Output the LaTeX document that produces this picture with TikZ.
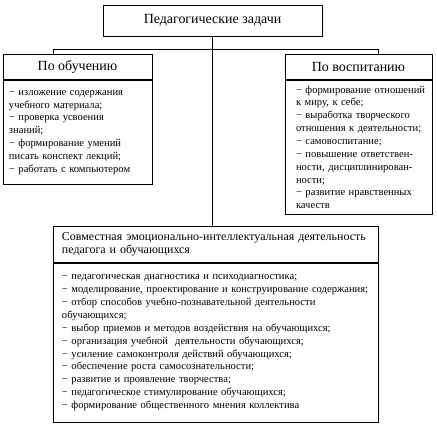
\documentclass[tikz,border=0pt]{standalone}
\usepackage{fontspec}
\setmainfont{Liberation Serif}
\usetikzlibrary{positioning}

\begin{document}
\begin{tikzpicture}[
    x=1bp, y=-1bp,
    headbox/.style={rectangle, draw=black, line width=0.9bp, inner sep=0pt,
                align=center, font=\fontsize{14}{16}\selectfont},
    listbox/.style={rectangle, draw=black, line width=0.9bp, inner ysep=0pt,
                align=left, font=\fontsize{10.6}{12.9}\selectfont},
    link/.style={draw=black, line width=0.9bp}
]
\useasboundingbox (0,0) rectangle (437,425);
\node[headbox, minimum width=219bp, minimum height=31bp] (tasks) at (212.5,20.5) {Педагогические задачи};
\node[headbox, minimum width=149bp, minimum height=25bp, anchor=north] (teach) at (77.5,54) {По обучению};
\node[listbox, text width=141bp, inner xsep=4bp, minimum height=104bp, below=0pt of teach] (teachlist)
  {\hspace*{2bp}− изложение содержания\\\hspace*{2bp}учебного материала;\\\hspace*{2bp}− проверка усвоения\\\hspace*{2bp}знаний;\\\hspace*{2bp}− формирование умений\\\hspace*{2bp}писать конспект лекций;\\\hspace*{2bp}− работать с компьютером};
\node[headbox, minimum width=147bp, minimum height=25bp, anchor=north] (raise) at (358.5,54) {По воспитанию};
\node[listbox, text width=137bp, inner xsep=5bp, minimum height=134bp, below=0pt of raise] (raiselist)
  {\hspace*{6bp}− формирование отношений\\\hspace*{6bp}к миру, к себе;\\\hspace*{6bp}− выработка творческого\\\hspace*{6bp}отношения к деятельности;\\\hspace*{6bp}− самовоспитание;\\\hspace*{6bp}− повышение ответствен-\\\hspace*{6bp}ности, дисциплинирован-\\\hspace*{6bp}ности;\\\hspace*{6bp}− развитие нравственных\\\hspace*{6bp}качеств};
\node[headbox, align=left, font=\fontsize{12}{13.5}\selectfont, text width=313bp, inner xsep=6bp,
      minimum height=36bp, anchor=north] (joint) at (215.5,226)
  {\hspace*{3bp}Совместная эмоционально-интеллектуальная деятельность\\\hspace*{3bp}педагога и обучающихся};
\node[listbox, text width=313bp, inner xsep=6bp, minimum height=159bp, below=0pt of joint] (jointlist)
  {\hspace*{3bp}− педагогическая диагностика и психодиагностика;\\
   \hspace*{3bp}− моделирование, проектирование и конструирование содержания;\\
   \hspace*{3bp}− отбор способов учебно-познавательной деятельности\\\hspace*{3bp}обучающихся;\\
   \hspace*{3bp}− выбор приемов и методов воздействия на обучающихся;\\
   \hspace*{3bp}− организация учебной\ \ деятельности обучающихся;\\
   \hspace*{3bp}− усиление самоконтроля действий обучающихся;\\
   \hspace*{3bp}− обеспечение роста самосознательности;\\
   \hspace*{3bp}− развитие и проявление творчества;\\
   \hspace*{3bp}− педагогическое стимулирование обучающихся;\\
   \hspace*{3bp}− формирование общественного мнения коллектива};
\coordinate (lbus) at (53,49);
\coordinate (rbus) at (378,49);
\draw[link] (tasks.south) -- (tasks.south |- joint.north);
\draw[link] (lbus |- teach.north) -- (lbus) -- (rbus) -- (rbus |- raise.north);
\end{tikzpicture}
\end{document}
